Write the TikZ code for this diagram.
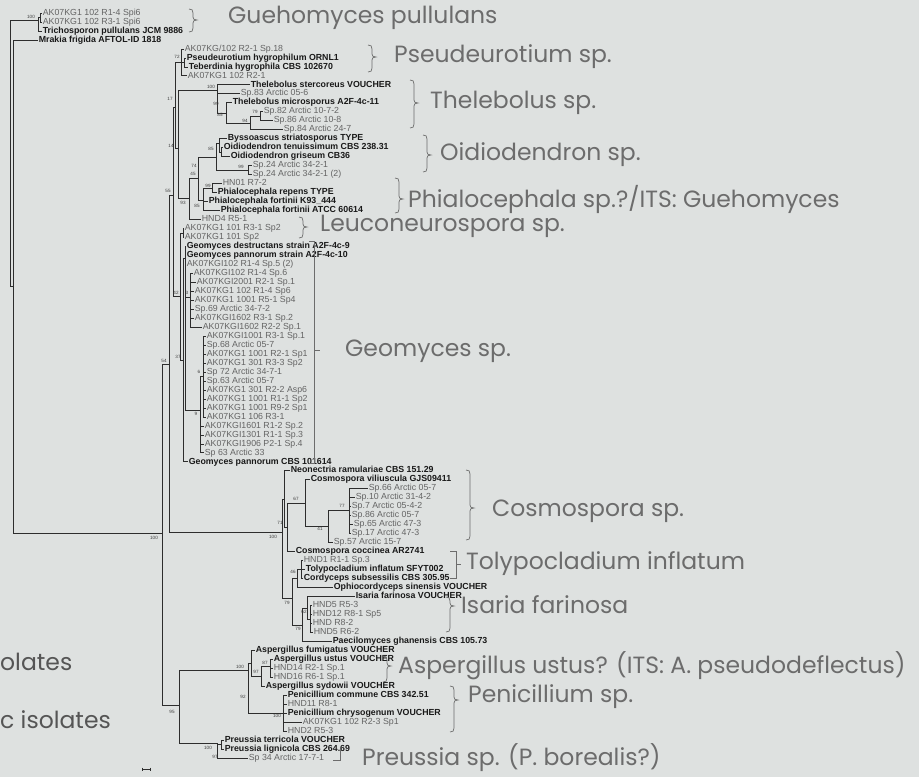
\documentclass[tikz,border=0pt]{standalone}
\usepackage{fontspec}
\setmainfont{Liberation Sans}
\newfontfamily\cladefont{Poppins}
\usepackage{tikz}
\definecolor{paper}{RGB}{222,225,224}
\definecolor{linegray}{RGB}{45,45,45}
\definecolor{refgray}{RGB}{25,25,25}
\definecolor{isogray}{RGB}{100,100,100}
\definecolor{bootgray}{RGB}{60,60,60}
\definecolor{cladegray}{RGB}{108,108,108}
\definecolor{leftgray}{RGB}{85,85,85}
\tikzset{
  leaf/.style={anchor=west, inner sep=0.6pt, text height=6pt, text depth=1.6pt},
  ref/.style={leaf, text=refgray, font=\fontsize{8.8}{9}\selectfont\bfseries},
  iso/.style={leaf, text=isogray, font=\fontsize{8.8}{9}\selectfont},
  br/.style={draw=linegray, line width=0.7pt},
  boot/.style={font=\fontsize{4.6}{5}\selectfont, text=bootgray, inner sep=0},
  clade/.style={anchor=west, inner sep=0, text=cladegray, font=\cladefont\fontsize{23.5}{26}\selectfont},
  brk/.style={draw=cladegray, line width=0.7pt},
}

\begin{document}
\begin{tikzpicture}[x=1pt,y=-1pt]
	\useasboundingbox (0,0) rectangle (919,777);
	\fill[paper] (0,0) rectangle (919,777); %scan
	\newcommand{\clbrace}[4]{% x, top, tip, bottom
		\draw[brk] (#1,#2) .. controls (#1+3,#2) and (#1+4,#2+1) .. (#1+4,#2+4)
		-- (#1+4,#3-3) .. controls (#1+4,#3-1) and (#1+5,#3) .. (#1+8,#3)
		.. controls (#1+5,#3) and (#1+4,#3+1) .. (#1+4,#3+3)
		-- (#1+4,#4-4) .. controls (#1+4,#4-1) and (#1+3,#4) .. (#1,#4);}
	% reference sequences
	\foreach \i/\x/\t in {3/42/{Trichosporon pullulans JCM 9886},4/38/{Mrakia frigida AFTOL-ID 1818},
		6/186/{Pseudeurotium hygrophilum ORNL1},7/188/{Teberdinia hygrophila CBS 102670},
		9/250/{Thelebolus stercoreus VOUCHER},11/232/{Thelebolus microsporus A2F-4c-11},
		15/227/{Byssoascus striatosporus TYPE},16/223/{Oidiodendron tenuissimum CBS 238.31},
		17/230/{Oidiodendron griseum CB36},21/217/{Phialocephala repens TYPE},
		22/208/{Phialocephala fortinii K93\_444},23/220/{Phialocephala fortinii ATCC 60614},
		27/186/{Geomyces destructans strain A2F-4c-9},28/186/{Geomyces pannorum strain A2F-4c-10},
		51/188/{Geomyces pannorum CBS 101614},52/290/{Neonectria ramulariae CBS 151.29},
		53/310/{Cosmospora viliuscula GJS09411},61/295/{Cosmospora coccinea AR2741},
		63/305/{Tolypocladium inflatum SFYT002},64/303/{Cordyceps subsessilis CBS 305.95},
		65/333/{Ophiocordyceps sinensis VOUCHER},66/355/{Isaria farinosa VOUCHER},
		71/332/{Paecilomyces ghanensis CBS 105.73},72/255/{Aspergillus fumigatus VOUCHER},
		73/273/{Aspergillus ustus VOUCHER},76/265/{Aspergillus sydowii VOUCHER},
		77/287/{Penicillium commune CBS 342.51},79/287/{Penicillium chrysogenum VOUCHER},
		82/224/{Preussia terricola VOUCHER},83/224/{Preussia lignicola CBS 264.69}}
		\node[ref] (l\i) at (\x,{13+(\i-1)*8.976}) {\t};
	% isolates
	\foreach \i/\x/\t in {1/42/{AK07KG1 102 R1-4 Spi6},2/42/{AK07KG1 102 R3-1 Spi6},
		5/184/{AK07KG/102 R2-1 Sp.18},8/187/{AK07KG1 102 R2-1},10/240/{Sp.83 Arctic 05-6},
		12/263/{Sp.82 Arctic 10-7-2},13/273/{Sp.86 Arctic 10-8},14/283/{Sp.84 Arctic 24-7},
		18/252/{Sp.24 Arctic 34-2-1},19/252/{Sp.24 Arctic 34-2-1 (2)},20/222/{HN01 R7-2},
		24/201/{HND4 R5-1},25/184/{AK07KG1 101 R3-1 Sp2},26/184/{AK07KG1 101 Sp2},
		29/186/{AK07KGI102 R1-4 Sp.5 (2)},30/193/{AK07KGI102 R1-4 Sp.6},31/196/{AK07KGI2001 R2-1 Sp.1},
		32/194/{AK07KG1 102 R1-4 Sp6},33/194/{AK07KG1 1001 R5-1 Sp4},34/194/{Sp.69 Arctic 34-7-2},
		35/194/{AK07KGI1602 R3-1 Sp.2},36/202/{AK07KGI1602 R2-2 Sp.1},37/206/{AK07KGI1001 R3-1 Sp.1},
		38/206/{Sp.68 Arctic 05-7},39/206/{AK07KG1 1001 R2-1 Sp1},40/206/{AK07KG1 301 R3-3 Sp2},
		41/206/{Sp 72 Arctic 34-7-1},42/206/{Sp.63 Arctic 05-7},43/206/{AK07KG1 301 R2-2 Asp6},
		44/206/{AK07KG1 1001 R1-1 Sp2},45/206/{AK07KG1 1001 R9-2 Sp1},46/206/{AK07KG1 106 R3-1},
		47/204/{AK07KGI1601 R1-2 Sp.2},48/204/{AK07KGI1301 R1-1 Sp.3},49/204/{AK07KGI1906 P2-1 Sp.4},
		50/204/{Sp 63 Arctic 33},54/368/{Sp.66 Arctic 05-7},55/355/{Sp.10 Arctic 31-4-2},
		56/351/{Sp.7 Arctic 05-4-2},57/351/{Sp.86 Arctic 05-7},58/353/{Sp.65 Arctic 47-3},
		59/351/{Sp.17 Arctic 47-3},60/333/{Sp.57 Arctic 15-7},62/303/{HND1 R1-1 Sp.3},
		67/312/{HND5 R5-3},68/312/{HND12 R8-1 Sp5},69/312/{HND R8-2},70/313/{HND5 R6-2},
		74/273/{HND14 R2-1 Sp.1},75/273/{HND16 R6-1 Sp.1},78/287/{HND11 R8-1},
		80/302/{AK07KG1 102 R2-3 Sp1},81/287/{HND2 R5-3},84/248/{Sp 34 Arctic 17-7-1}}
		\node[iso] (l\i) at (\x,{13+(\i-1)*8.976}) {\t};
	% inner nodes
	\foreach \n/\x/\y in {root/10/155,gue/38/20,gueA/40/17.5,mrk/13/286,asco/162/533,
		leo/169/364,eur/179/705,leoA/173/195,leoB/175/107,leoC/178/148,pse/181/62.4,pseA/184/62.4,
		the/217/90,theA/226/113,theB/250/123,theC/260/116.2,oidph/189/198,oidphA/198/178,
		oid/216/157,oidA/219/143,oidB/221/152,oidS/248/170,phi/203/200,phiA/212/188,
		geoO/180/296,leu/183/233,geoI/183/360,geoT/185/258,geoA/190/297,geoB/200/410,geoC/203/376,
		hypo/282/532,cos/284/499,cosA/287/527,cosB/305/503,cosC/328/526,cosD/349/510,
		tol0/292/598,tol/297/578,tolA/301/569.5,isa0/302/625,isa/307/608,isaA/310/619,
		eurA/248/670,asp/251/663,aspA/261/676,aspB/270/666,pen/283/713,pre/217/743,preA/221/744.5}
		\coordinate (\n) at (\x,\y);
	% branches
	\foreach \p/\c in {root/gue,root/mrk,gue/gueA,gue/l3.west,gueA/l1.west,gueA/l2.west,
		mrk/l4.west,mrk/asco,asco/leo,asco/eur,leo/leoA,leo/hypo,leoA/leoB,leoA/geoO,
		leoB/pse,leoB/leoC,pse/l5.west,pse/pseA,pse/l8.west,pseA/l6.west,pseA/l7.west,
		leoC/the,leoC/oidph,the/l9.west,the/l10.west,the/theA,theA/l11.west,theA/theB,
		theB/theC,theB/l14.west,theC/l12.west,theC/l13.west,
		oidph/oidphA,oidph/l24.west,oidphA/oid,oidphA/phi,oid/oidA,oid/oidS,
		oidA/l15.west,oidA/oidB,oidB/l16.west,oidB/l17.west,oidS/l18.west,oidS/l19.west,
		phi/phiA,phi/l22.west,phi/l23.west,phiA/l20.west,phiA/l21.west,
		geoO/leu,geoO/geoI,leu/l25.west,leu/l26.west,geoI/geoT,geoI/l51.west,
		geoT/l27.west,geoT/l28.west,geoT/l29.west,geoT/geoA,geoT/geoB,geoB/geoC,
		hypo/cos,hypo/tol0,cos/l52.west,cos/cosA,cosA/cosB,cosA/l61.west,
		cosB/l53.west,cosB/cosC,cosC/cosD,cosC/l60.west,
		tol0/tol,tol0/isa0,tol/tolA,tol/l65.west,isa0/isa,isa0/l71.west,isa/l66.west,isa/isaA,
		eur/eurA,eur/pre,eurA/asp,eurA/pen,asp/l72.west,asp/aspA,aspA/aspB,aspA/l76.west,
		pre/preA,pre/l84.west,preA/l82.west,preA/l83.west}
		\draw[br] (\p) |- (\c);
	\foreach \c in {30,...,36} \draw[br] (geoA) |- (l\c.west);
	\foreach \c in {37,...,46} \draw[br] (geoC) |- (l\c.west);
	\foreach \c in {47,...,50} \draw[br] (geoB) |- (l\c.west);
	\foreach \c in {54,...,59} \draw[br] (cosD) |- (l\c.west);
	\foreach \c in {62,63,64} \draw[br] (tolA) |- (l\c.west);
	\foreach \c in {67,...,70} \draw[br] (isaA) |- (l\c.west);
	\foreach \c in {73,74,75} \draw[br] (aspB) |- (l\c.west);
	\foreach \c in {77,...,81} \draw[br] (pen) |- (l\c.west);
	% bootstrap values
	\foreach \v/\x/\y [count=\k] in {100/31/17,72/177/57,17/170/99,100/211/87,99/216/104,
		85/220/115,94/245/121,79/255/112,14/171/146,85/211/149,74/194/166,99/241/167,
		45/193/174,99/208/186,55/168/191,85/197/206,93/183/203,42/176/293,3/187/293,
		37/178/357,54/164/361,6/199/372,9/196/414,100/154/538,67/296/499,77/342/506,
		71/280/523,41/320/529,100/273/537,46/293/572,79/287/603,62/304/612,79/298/629,
		87/265/663,97/256/672,100/240/667,92/243/697,100/277/716,95/172/712,100/208/748,97/215/757}
		\node[boot] (b\k) at (\x,\y) {\v};
	% clade brackets
	\clbrace{189}{9}{20}{32}
	\clbrace{368}{45}{57}{72}
	\clbrace{410}{80}{103}{128}
	\clbrace{423}{135}{155}{172}
	\clbrace{395}{178}{199}{213}
	\clbrace{299}{217}{227}{238}
	\draw[brk] (309,241) -- (314,241) -- (314,463) -- (309,463);
	\draw[brk] (314,350) -- (320,350);
	\clbrace{466}{470}{508}{540}
	\draw[brk] (450,551) -- (456,551) -- (456,578) -- (450,578);
	\draw[brk] (456,564) -- (461,564);
	\clbrace{446}{597}{606}{632}
	\clbrace{383}{656}{666}{682}
	\clbrace{450}{686}{700}{732}
	\draw[brk] (333,760) -- (340,760) -- (340,749);
	% clade names
	\node[clade] (clGue) at (228,18) {Guehomyces pullulans};
	\node[clade] (clPse) at (394,57) {Pseudeurotium sp.};
	\node[clade] (clThe) at (430,103) {Thelebolus sp.};
	\node[clade] (clOid) at (440,155) {Oidiodendron sp.};
	\node[clade] (clPhi) at (408,199) {Phialocephala sp.?/ITS: Guehomyces};
	\node[clade] (clLeu) at (320,226) {Leuconeurospora sp.};
	\node[clade] (clGeo) at (345,351) {Geomyces sp.};
	\node[clade] (clCos) at (492,511) {Cosmospora sp.};
	\node[clade] (clTol) at (466,564) {Tolypocladium inflatum};
	\node[clade] (clIsa) at (461,605) {Isaria farinosa};
	\node[clade] (clAsp) at (398,666) {Aspergillus ustus? (ITS: A. pseudodeflectus)};
	\node[clade] (clPen) at (468,697) {Penicillium sp.};
	\node[clade] (clPre) at (362,758) {Preussia sp. (P. borealis?)};
	% cut-off slide text
	\node[clade, text=leftgray] (txtA) at (0,662) {olates};
	\node[clade, text=leftgray] (txtB) at (0,720) {c isolates};
	% scale bar
	\draw[br, line width=0.4pt] (142,769) -- (150,769);
	\draw[br, line width=0.4pt] (142,767.5) -- (142,770.5);
	\draw[br, line width=0.4pt] (150,767.5) -- (150,770.5);
\end{tikzpicture}
\end{document}
